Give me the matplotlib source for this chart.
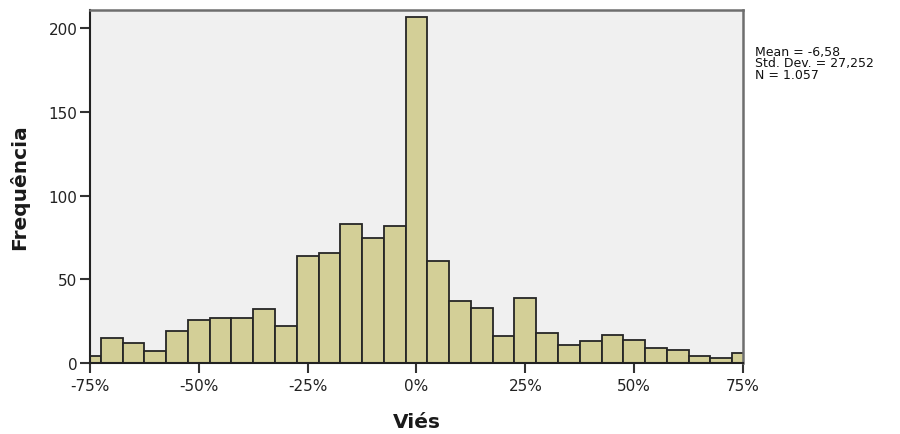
import numpy as np
import matplotlib
matplotlib.use('Agg')
import matplotlib.pyplot as plt
from matplotlib.ticker import FuncFormatter

# bin centres (%) and counts
bin_centers = [-75, -70, -65, -60, -55, -50, -45, -40, -35, -30, -25, -20, -15, -10, -5,
               0, 5, 10, 15, 20, 25, 30, 35, 40, 45, 50, 55, 60, 65, 70, 75]
counts = [4, 15, 12, 7, 19, 26, 27, 27, 32, 22, 64, 66, 83, 75, 82,
          207, 61, 37, 33, 16, 39, 18, 11, 13, 17, 14, 9, 8, 4, 3, 6]
bin_width = 5

x_ticks = [-75, -50, -25, 0, 25, 50, 75]
y_ticks = [0, 50, 100, 150, 200]
stats_lines = ["Mean = -6,58", "Std. Dev. = 27,252", "N = 1.057"]

plt.rcParams['font.family'] = ['DejaVu Sans']

fig = plt.figure(figsize=(9, 4.35), dpi=100)
ax = fig.add_axes([90 / 900, 71 / 435, 653 / 900, 353 / 435])
ax.set_facecolor('#F0F0F0')

ax.bar(bin_centers, counts, width=bin_width, color='#D3CF97',
       edgecolor='#262626', linewidth=1.3, zorder=2)

ax.set_xlim(-75, 75)
ax.set_ylim(0, 211)
ax.set_xticks(x_ticks)
ax.set_yticks(y_ticks)
ax.xaxis.set_major_formatter(FuncFormatter(lambda v, p: f"{v:.0f}%"))

ax.tick_params(axis='both', direction='out', length=7.5, width=1.5,
               color='#333333', labelsize=11, labelcolor='#222222')
ax.tick_params(axis='x', pad=3)
ax.tick_params(axis='y', pad=1.5)

for side in ['left', 'bottom']:
    ax.spines[side].set_color('#222222')
    ax.spines[side].set_linewidth(1.5)
for side in ['top', 'right']:
    ax.spines[side].set_color('#6E6E6E')
    ax.spines[side].set_linewidth(1.8)

ax.set_xlabel('Viés', fontsize=14.5, fontweight='bold', color='#1a1a1a', labelpad=14)
ax.set_ylabel('Frequência', fontsize=14.5, fontweight='bold', color='#1a1a1a', labelpad=14)

# summary statistics box text, right of the plot
fig.text(755 / 900, 1 - 46 / 435, "\n".join(stats_lines), fontsize=9,
         color='#111111', ha='left', va='top', linespacing=0.85)

fig.savefig('out.png', dpi=100)
